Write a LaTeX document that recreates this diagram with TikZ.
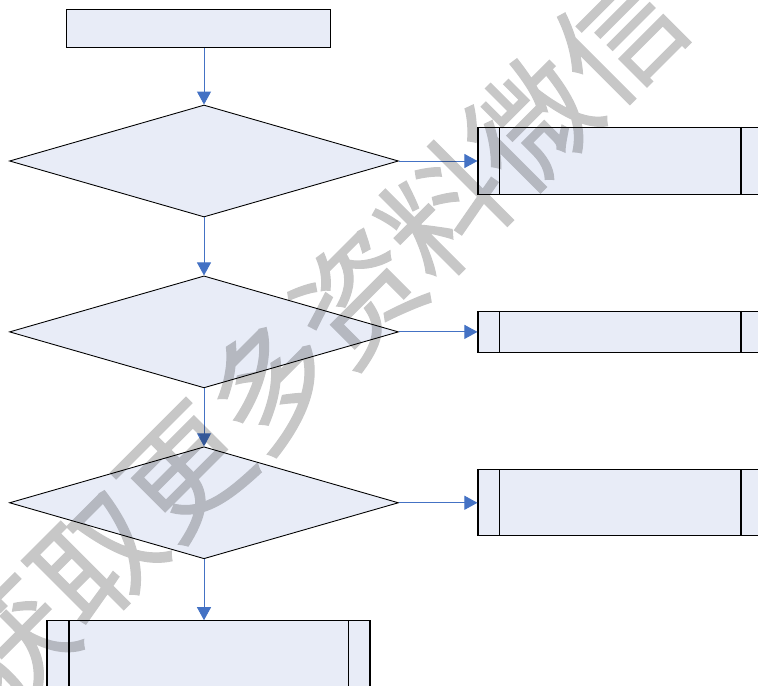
\documentclass[tikz,border=0pt]{standalone}
\usepackage{fontspec}
\newfontfamily\cjk[FakeBold=1]{Noto Sans CJK SC}
\usetikzlibrary{shapes.geometric, arrows.meta, positioning}
\definecolor{boxfill}{RGB}{232,236,247}
\definecolor{arrowblue}{RGB}{68,114,196}

\begin{document}
\begin{tikzpicture}[
      node distance=1.16cm and 1.57cm,
      box/.style={rectangle, draw=black, fill=boxfill, line width=0.6pt,
                  inner sep=0pt},
      dec/.style={diamond, draw=black, fill=boxfill, line width=0.5pt,
                  inner sep=0pt, minimum width=7.78cm, minimum height=2.24cm},
      subproc/.style={box, minimum width=5.7cm},
      arr/.style={-{Triangle[length=2.6mm, width=2.8mm]}, draw=arrowblue,
                  line width=0.5pt}
    ]
    \useasboundingbox (0,0) rectangle (15.16,-13.7);
    \clip (0,0) rectangle (15.16,-13.7);

    \node[dec] (dia1) at (4.08,-3.22) {};
    \node[box, above=1.14cm of dia1, xshift=-0.11cm,
          minimum width=5.29cm, minimum height=0.75cm] (start) {};
    \node[dec, below=of dia1] (dia2) {};
    \node[dec, below=of dia2] (dia3) {};

    \node[subproc, right=of dia1, minimum height=1.34cm] (sub1) {};
    \node[subproc, right=of dia2, minimum height=0.82cm] (sub2) {};
    \node[subproc, right=of dia3, minimum height=1.32cm] (sub3) {};
    \node[subproc, below=1.22cm of dia3, xshift=0.09cm,
          minimum width=6.46cm, minimum height=1.4cm] (fin) {};

    % side bars of the subprocess boxes
    \foreach \n in {sub1,sub2,sub3,fin}
      \draw[line width=0.6pt]
        ([xshift=0.45cm]\n.north west) -- ([xshift=0.45cm]\n.south west)
        ([xshift=-0.45cm]\n.north east) -- ([xshift=-0.45cm]\n.south east);

    \draw[arr] (dia1 |- start.south) -- (dia1.north);
    \draw[arr] (dia1) -- (dia2);
    \draw[arr] (dia2) -- (dia3);
    \draw[arr] (dia3) -- (dia3 |- fin.north);
    \foreach \d/\s in {dia1/sub1, dia2/sub2, dia3/sub3}
      \draw[arr] (\d) -- (\s);

    \begin{scope}[transparency group, opacity=0.22]
      \node[rotate=45, text=black, inner sep=0pt,
            font=\cjk\fontsize{70}{70}\selectfont] (mark) at (6.28,-6.8)
            {获取更多资料微信};
    \end{scope}
  \end{tikzpicture}
\end{document}
